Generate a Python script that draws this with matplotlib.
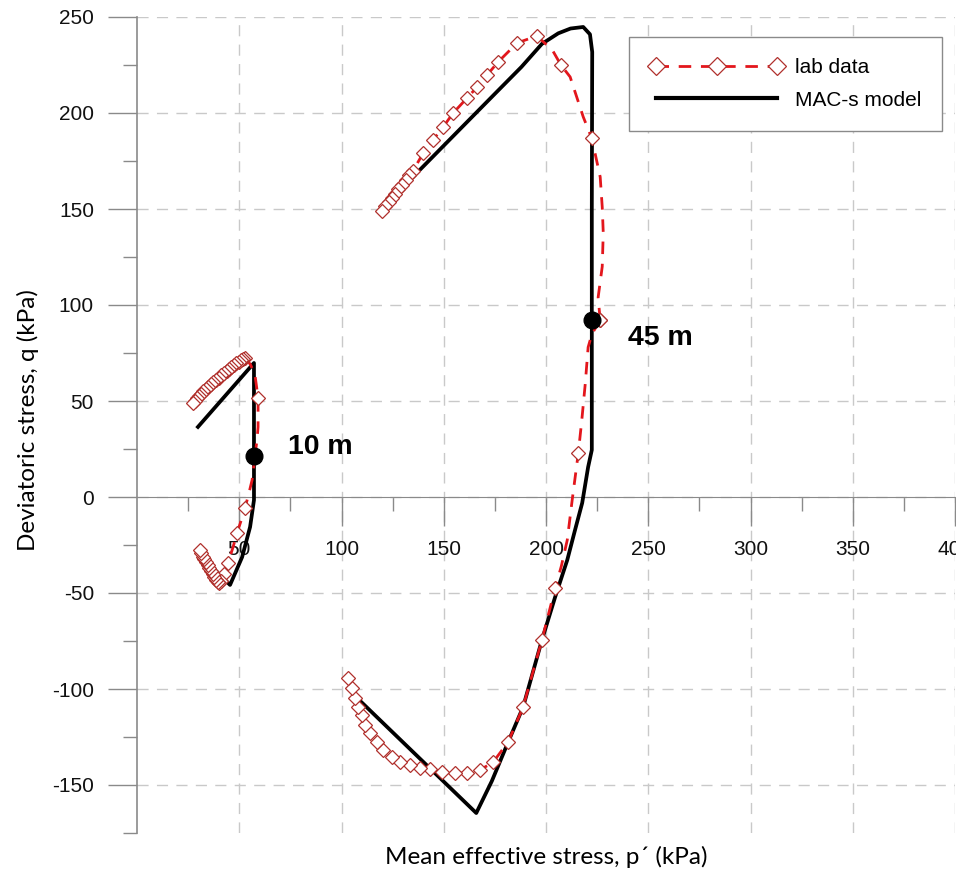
import matplotlib
matplotlib.use("Agg")
import matplotlib.pyplot as plt
from matplotlib.lines import Line2D

plt.rcParams["axes.unicode_minus"] = False

# ---- 45 m : MAC-s model (p', q) ----
m45_p = [123.8, 150.0, 175.0, 188.0, 198.0, 206.0, 212.0, 218.2, 221.5, 222.6,
         222.4, 222.4, 222.4, 220.6, 217.7, 214.0, 210.4, 204.5, 198.0, 188.8, 181.5,
         173.5, 165.9, 106.0]
m45_q = [154.7, 183.0, 210.0, 224.0, 236.0, 241.5, 244.0, 244.8, 241.0, 231.8,
         150.0, 92.0, 24.5, 15.6, -3.1, -18.0, -32.8, -52.0, -74.5, -109.4, -127.6,
         -148.0, -164.6, -103.0]

# ---- 45 m : lab data, compression branch ----
lab45c_p = [226.5, 225.5, 227.5, 228.0, 227.5, 226.5, 222.4, 218.2, 211.8, 207.3, 203.0,
            195.5, 185.9, 176.6, 171.2, 166.3, 161.4, 154.6, 149.7, 144.8, 139.9, 135.0,
            133.2, 131.3, 129.5, 127.8, 126.0, 124.5, 123.0, 121.5, 119.6]
lab45c_q = [92.0, 104.0, 120.0, 137.5, 151.0, 166.7, 186.8, 198.0, 218.8, 225.0, 233.0,
            240.1, 236.5, 226.6, 219.8, 213.5, 207.8, 200.0, 192.7, 186.0, 179.0, 170.0,
            167.8, 165.1, 162.6, 160.2, 157.7, 155.6, 153.5, 151.4, 149.0]
lab45c_marks = [0, 6, 9] + list(range(11, 31))

# ---- 45 m : lab data, extension branch ----
lab45e_p = [226.5, 222.5, 220.6, 219.2, 217.5, 215.8, 212.8, 210.4, 207.5, 204.5, 198.0,
            188.8, 181.5, 174.2, 167.8, 161.4, 155.6, 149.2, 143.3, 138.5, 133.6, 128.7,
            124.8, 120.4, 117.4, 114.0, 111.5, 110.0, 108.1, 106.7, 105.2, 103.2]
lab45e_q = [92.0, 85.0, 78.0, 59.0, 40.0, 22.9, -1.6, -22.4, -36.0, -47.4, -74.5,
            -109.4, -127.6, -138.0, -142.2, -143.8, -143.8, -143.2, -141.7, -141.1, -139.6,
            -138.0, -135.4, -131.8, -127.6, -123.0, -118.8, -113.5, -109.4, -104.7, -99.5, -94.3]
lab45e_marks = [0, 5, 9] + list(range(10, 32))

# ---- 10 m : MAC-s model ----
m10_p = [29.8, 57.2, 57.2, 57.2, 55.3, 51.4, 45.5, 29.8]
m10_q = [36.5, 69.8, 21.4, -1.6, -15.6, -31.3, -45.8, -29.2]

# ---- 10 m : lab data, compression branch ----
lab10c_p = [57.7, 58.7, 59.2, 59.2, 57.7, 55.5, 52.8, 51.8, 50.8, 49.7, 48.6, 47.4, 46.2,
            45.0, 43.8, 42.5, 41.2, 39.9, 38.6, 37.3, 36.0, 34.8, 33.6, 32.4, 31.3, 30.2,
            29.2, 28.3, 27.4]
lab10c_q = [21.4, 30.0, 36.5, 51.6, 63.5, 69.0, 72.4, 72.0, 71.3, 70.5, 69.6, 68.7, 67.7,
            66.7, 65.6, 64.5, 63.4, 62.2, 61.0, 59.8, 58.6, 57.4, 56.2, 55.0, 53.8, 52.6,
            51.4, 50.2, 49.0]
lab10c_marks = [3] + list(range(6, 29))

# ---- 10 m : lab data, extension branch ----
lab10e_p = [57.7, 56.3, 54.5, 52.8, 51.0, 48.9, 47.0, 44.5, 42.5, 41.2, 40.2, 39.4, 38.6,
            37.8, 37.0, 36.2, 35.4, 34.6, 33.8, 33.0, 32.2, 31.4, 30.8]
lab10e_q = [21.4, 8.9, 1.0, -5.7, -12.0, -18.8, -26.0, -34.4, -40.0, -43.5, -45.0, -44.5,
            -43.0, -41.5, -40.0, -38.5, -37.0, -35.5, -34.0, -32.5, -31.0, -29.3, -27.6]
lab10e_marks = [3, 5] + list(range(7, 23))

# initial states
start_p = [57.2, 222.4]
start_q = [21.4, 92.0]
start_labels = ["10 m", "45 m"]
label_pos = [(74, 26), (240, 83)]

x_major = [50, 100, 150, 200, 250, 300, 350, 400]
x_minor = [25, 75, 125, 175, 225, 275, 325, 375]
y_major = [-150, -100, -50, 0, 50, 100, 150, 200, 250]
y_minor = [-175, -125, -75, -25, 25, 75, 125, 175, 225]

RED = "#e3161c"
MRED = "#b0302c"
GRID = "#c9c9c9"
AXC = "#8a8a8a"

fig = plt.figure(figsize=(9.56, 8.72), dpi=100)
ax = fig.add_axes([137 / 956, 39 / 872, 818 / 956, 816 / 872])

# model lines
ax.plot(m45_p, m45_q, color="black", lw=2.7, solid_joinstyle="round", zorder=3)
ax.plot(m10_p, m10_q, color="black", lw=2.7, solid_joinstyle="round", zorder=3)

# lab data
lab_kw = dict(color=RED, lw=2.0, ls=(0, (4.5, 3.5)), marker="D", ms=7, mfc="white",
              mec=MRED, mew=0.9, zorder=4)
for px, qy, mk in [(lab45c_p, lab45c_q, lab45c_marks), (lab45e_p, lab45e_q, lab45e_marks),
                   (lab10c_p, lab10c_q, lab10c_marks), (lab10e_p, lab10e_q, lab10e_marks)]:
    ax.plot(px, qy, markevery=mk, **lab_kw)

ax.plot(start_p, start_q, "o", color="black", ms=12, zorder=5)
for lab, (tx, ty) in zip(start_labels, label_pos):
    ax.text(tx, ty, lab, fontsize=20.5, fontweight="bold", family="Liberation Sans",
            va="center", ha="left")

ax.set_xlim(0, 400)
ax.set_ylim(-175, 250)

for s in ["top", "right"]:
    ax.spines[s].set_visible(False)
ax.spines["bottom"].set_position(("data", 0))
ax.spines["bottom"].set_color(AXC)
ax.spines["left"].set_color(AXC)
ax.spines["left"].set_linewidth(1.2)

ax.set_xticks(x_major)
ax.set_xticks(x_minor, minor=True)
ax.set_yticks(y_major)
ax.set_yticks(y_minor, minor=True)
ax.tick_params(which="major", length=21, width=1, color=AXC, pad=10,
               labelsize=15, labelcolor="#111111")
ax.tick_params(which="minor", length=10, width=1, color=AXC)
for t in ax.get_xticklabels() + ax.get_yticklabels():
    t.set_family("Liberation Sans")

ax.grid(which="major", color=GRID, lw=1, ls=(0, (8, 6)), zorder=0)
ax.set_axisbelow(True)

fig.text(546 / 956, 1 - 857 / 872, "Mean effective stress, p\u00b4 (kPa)",
         ha="center", va="center", fontsize=17.5, family=["Lato", "DejaVu Sans"])
fig.text(28 / 956, 1 - 420 / 872, "Deviatoric stress, q (kPa)", rotation=90,
         ha="center", va="center", fontsize=17.5, family=["Lato", "DejaVu Sans"])

handles = [
    Line2D([], [], color=RED, lw=2.0, ls=(0, (4.5, 3.5)), marker="D", ms=9,
           mfc="white", mec=MRED, mew=0.9),
    Line2D([], [], color="black", lw=3),
]
leg = ax.legend(handles, ["lab data", "MAC-s model"], loc="upper right",
                bbox_to_anchor=(0.984, 0.975), numpoints=3, handlelength=6.4,
                fancybox=False, framealpha=1, edgecolor="#8a8a8a",
                prop={"family": "Liberation Sans", "size": 15},
                borderpad=1.0, handletextpad=0.55, labelspacing=0.65, borderaxespad=0)
leg.get_frame().set_linewidth(1)

fig.savefig("out.png", dpi=100)
